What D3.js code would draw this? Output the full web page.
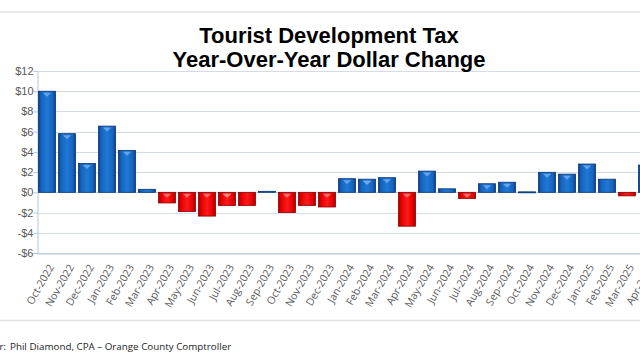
<!DOCTYPE html>
<html><head><meta charset="utf-8">
<script src="https://cdn.jsdelivr.net/npm/d3@7"></script>
<style>body{margin:0;background:#fff}svg{display:block}</style>
</head><body>
<script>
const categories = ["Oct-2022","Nov-2022","Dec-2022","Jan-2023","Feb-2023","Mar-2023","Apr-2023","May-2023","Jun-2023","Jul-2023","Aug-2023","Sep-2023","Oct-2023","Nov-2023","Dec-2023","Jan-2024","Feb-2024","Mar-2024","Apr-2024","May-2024","Jun-2024","Jul-2024","Aug-2024","Sep-2024","Oct-2024","Nov-2024","Dec-2024","Jan-2025","Feb-2025","Mar-2025","Apr-2025"];
const values = [10.0,5.8,2.85,6.55,4.15,0.3,-1.05,-1.9,-2.35,-1.3,-1.3,0.1,-2.0,-1.3,-1.45,1.35,1.3,1.45,-3.35,2.1,0.35,-0.6,0.85,1.0,0.05,1.98,1.8,2.8,1.3,-0.35,2.7];
const yTicks = [-6,-4,-2,0,2,4,6,8,10,12];
const titleLines = ["Tourist Development Tax","Year-Over-Year Dollar Change"];
const footerLabel = "Preparer:";
const footer = "Phil Diamond, CPA \u2013 Orange County Comptroller";

const W=640,H=360;
const svg=d3.select("body").append("svg").attr("width",W).attr("height",H);
const defs=svg.append("defs");
function grad(id,stops){
  const g=defs.append("linearGradient").attr("id",id).attr("x1","0").attr("x2","1").attr("y1","0").attr("y2","0");
  stops.forEach(s=>g.append("stop").attr("offset",s[0]).attr("stop-color",s[1]));
}
grad("gBlue",[[0,"#0b3f86"],[0.15,"#1563bd"],[0.5,"#1f78d6"],[0.85,"#1563bd"],[1,"#0b3f86"]]);
grad("gRed",[[0,"#a80000"],[0.15,"#e00000"],[0.5,"#ff1a1a"],[0.85,"#e00000"],[1,"#a80000"]]);

// frame lines
svg.append("line").attr("x1",0).attr("x2",W).attr("y1",12).attr("y2",12).attr("stroke","#e3e3e3").attr("stroke-width",1.5);
svg.append("line").attr("x1",0).attr("x2",W).attr("y1",320.5).attr("y2",320.5).attr("stroke","#e3e3e3").attr("stroke-width",1.5);

const x=d3.scaleBand().domain(categories).range([37,657]).paddingInner(0.15).paddingOuter(0.075);
const y=d3.scaleLinear().domain([-6,12]).range([253,71]);

// gridlines
svg.append("g").selectAll("line").data(yTicks).join("line")
  .attr("x1",37).attr("x2",W).attr("y1",d=>Math.round(y(d))+0.5).attr("y2",d=>Math.round(y(d))+0.5)
  .attr("stroke",d=>d===0?"#c3cfe0":"#d5dce7").attr("stroke-width",1);

// y axis
const ya=svg.append("g").attr("transform","translate(37.5,0)")
  .call(d3.axisLeft(y).tickValues(yTicks).tickSize(4).tickFormat(d=>(d<0?"-$":"$")+Math.abs(d)));
ya.select(".domain").attr("stroke","#b4c7e0");
ya.selectAll(".tick line").attr("stroke","#b4c7e0");
ya.selectAll("text").attr("fill","#595959").style("font-family","Liberation Sans, Arial, sans-serif").style("font-size","11px").attr("x",-4);

// bottom axis
const xa=svg.append("g").attr("transform","translate(0,253.5)")
  .call(d3.axisBottom(x).tickSize(0).tickSizeOuter(0));
xa.select(".domain").attr("stroke","#b4c7e0");
xa.selectAll("text").attr("fill","#595959").style("font-family","Open Sans, sans-serif").style("font-size","10.5px")
  .attr("text-anchor","end").attr("dx",0).attr("dy",0)
  .attr("transform","translate(5,12) rotate(-60)");

// bars
const bars=svg.append("g");
bars.selectAll("rect").data(values).join("rect")
  .attr("x",(d,i)=>x(categories[i]))
  .attr("width",x.bandwidth())
  .attr("y",d=>y(Math.max(0,d)))
  .attr("height",d=>Math.max(1,Math.abs(y(d)-y(0))))
  .attr("fill",d=>d>=0?"url(#gBlue)":"url(#gRed)")
  .attr("stroke",d=>d>=0?"#0a3470":"#8a0000").attr("stroke-width",0.8);
// top highlight chevrons
bars.selectAll("path").data(values).join("path")
  .filter(d=>Math.abs(d)>0.5)
  .attr("d",function(d){const i=values.indexOf(d);const x0=x(categories[i]),w=x.bandwidth();const yt=y(Math.max(0,d))+1.5;
     return `M${x0+w*0.25},${yt} L${x0+w*0.75},${yt} L${x0+w*0.5},${yt+4} Z`;})
  .attr("fill",d=>d>=0?"#6fb0f0":"#ff8080").attr("opacity",0.8);

// title
const t=svg.append("text").attr("x",329).attr("text-anchor","middle")
  .style("font-family","Liberation Sans, Arial, sans-serif").style("font-weight","bold").style("font-size","22px").attr("fill","#000");
t.append("tspan").attr("x",329).attr("y",43).text(titleLines[0]);
t.append("tspan").attr("x",329).attr("y",67).text(titleLines[1]);

// footer
svg.append("text").attr("x",6).attr("y",350).attr("text-anchor","end").style("font-family","Open Sans, sans-serif").style("font-size","9.8px").attr("fill","#222").text(footerLabel);
svg.append("text").attr("x",10).attr("y",350).style("font-family","Open Sans, sans-serif").style("font-size","9.8px").attr("fill","#222").text(footer);
</script>
</body></html>
